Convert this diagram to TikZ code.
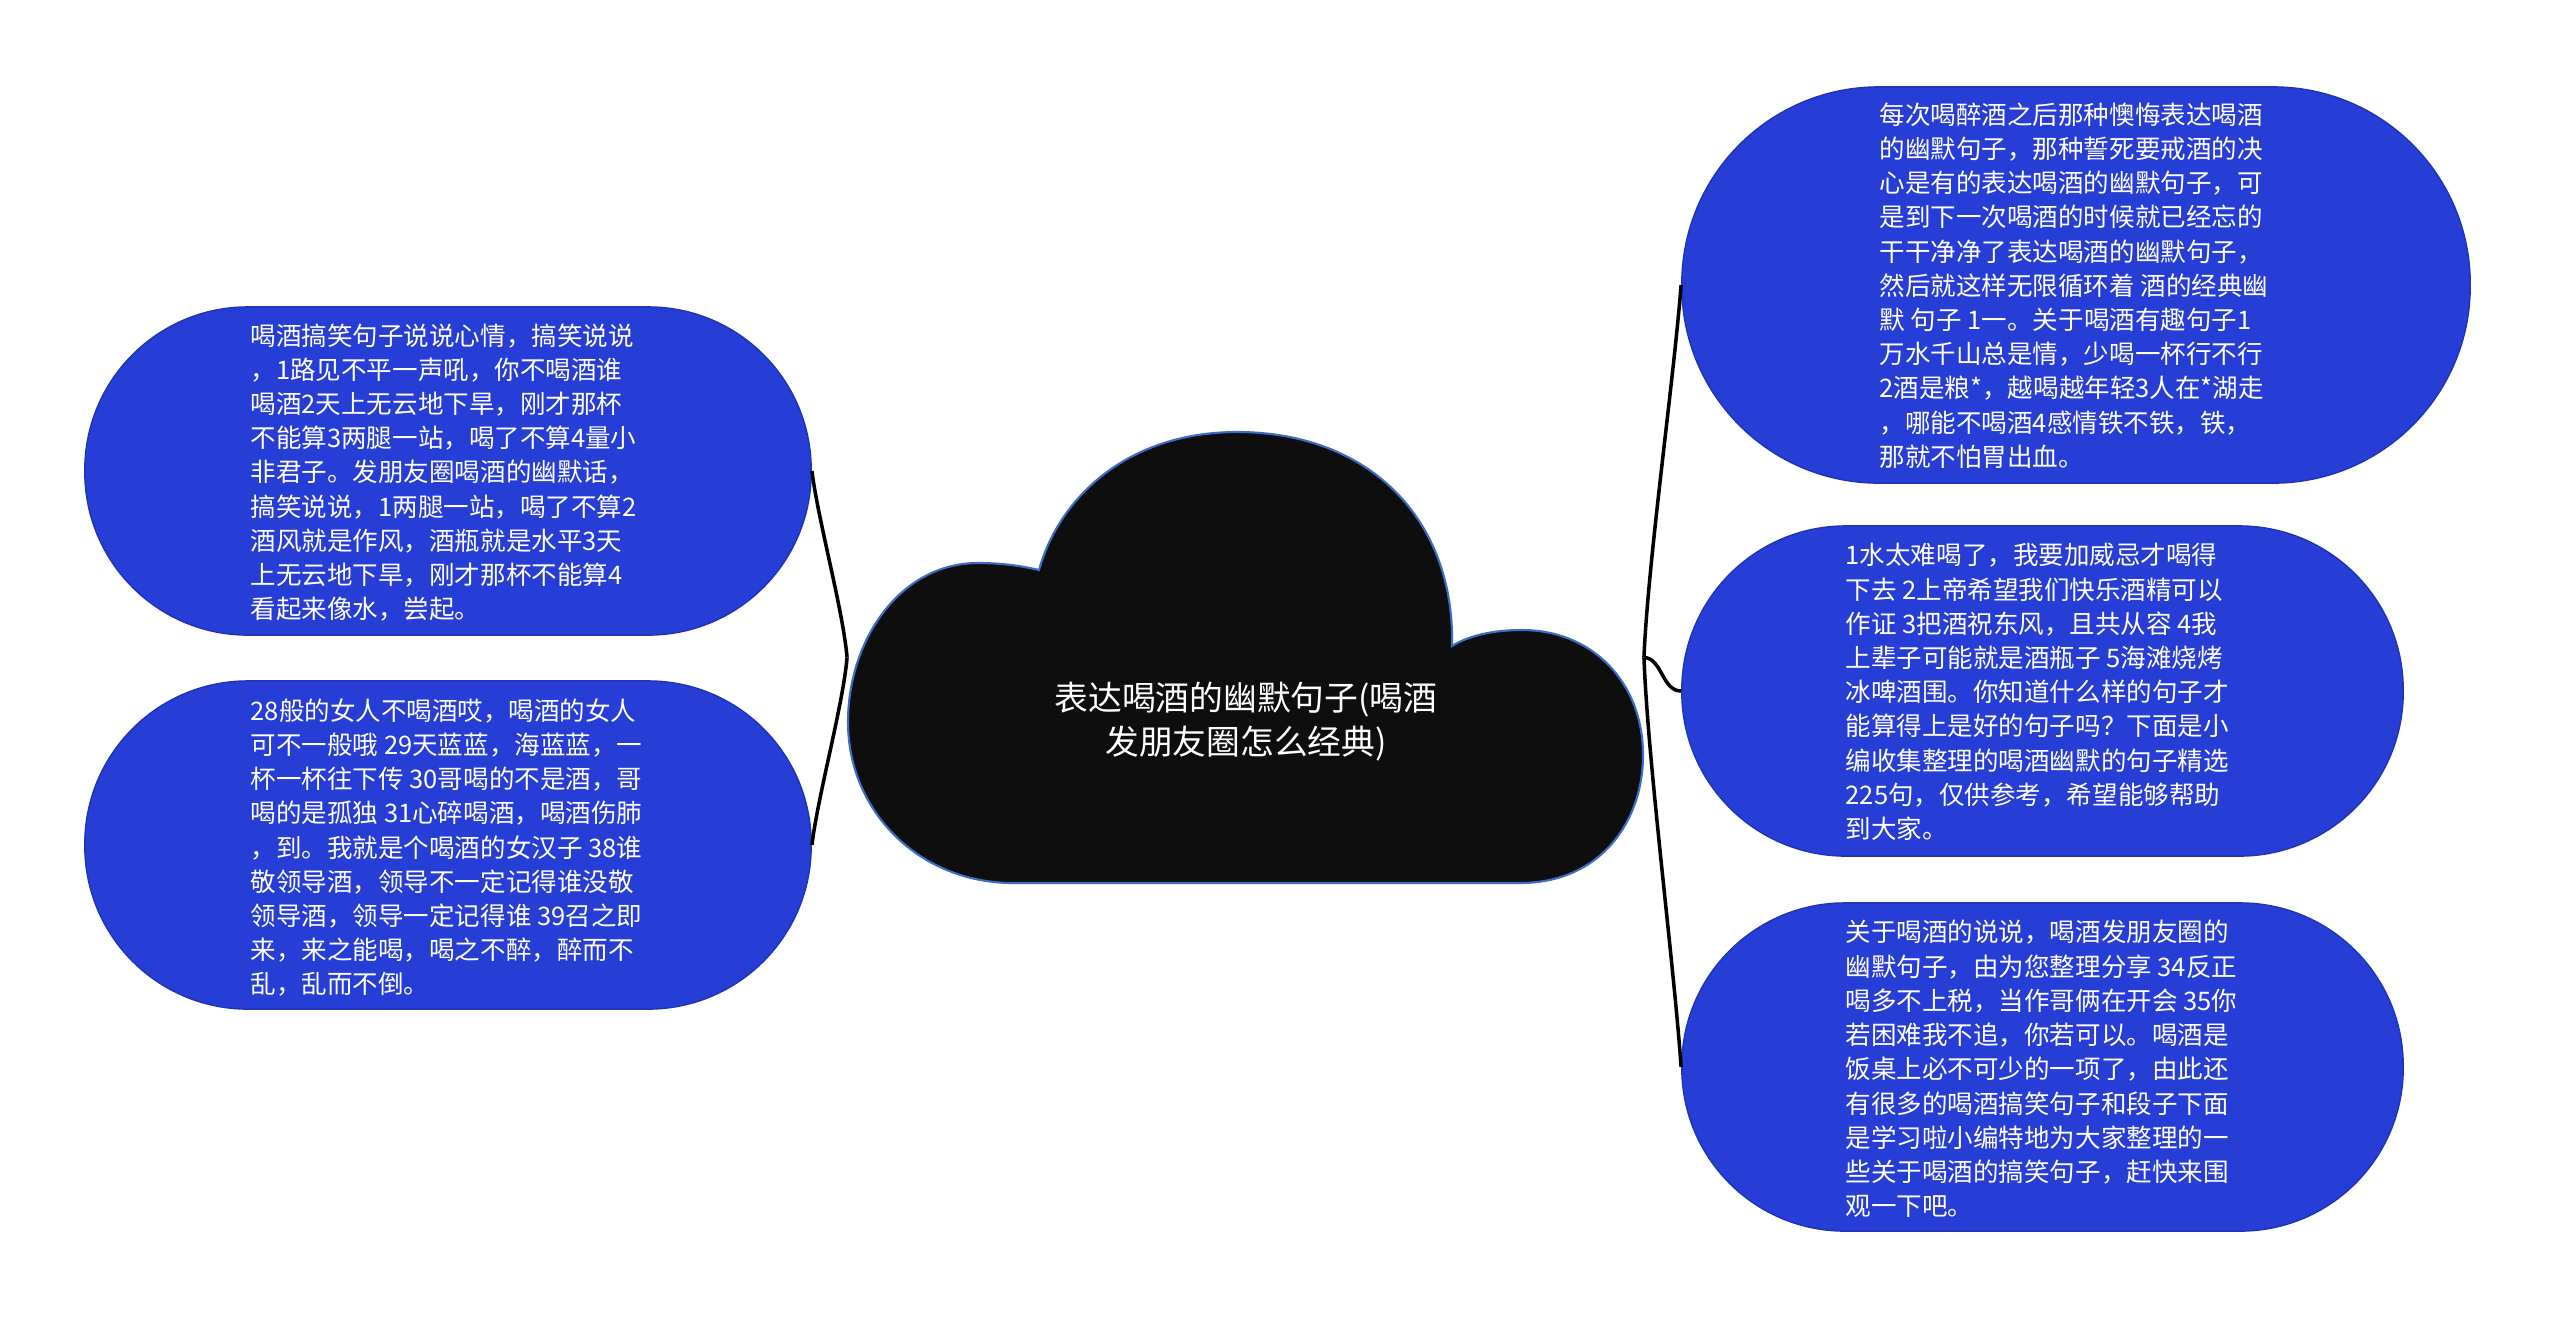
\documentclass[tikz,border=0pt]{standalone}
\usepackage{fontspec}
\newfontfamily\cjk{Noto Sans CJK SC}
\definecolor{bblue}{HTML}{263DD6}
\definecolor{bedge}{HTML}{1F33B8}
\definecolor{cloudfill}{HTML}{0E0E0E}
\definecolor{cloudline}{HTML}{3C6CC4}
\begin{document}
\begin{tikzpicture}[x=0.01cm,y=-0.01cm,
  bubble/.style={draw=bedge,line width=0.4pt,fill=bblue,shape=rectangle,inner sep=0pt},
  btext/.style={anchor=west,inner sep=0pt,align=left,text=white,font=\cjk\fontsize{7.26pt}{9.73pt}\selectfont},
  conn/.style={draw=black,line width=1pt}]
\fill[white] (0,0) rectangle (2560,1317);
\useasboundingbox (0,0) rectangle (2560,1317);

% cloud shape
\path[fill=cloudfill,draw=cloudline,line width=0.6pt]
  (1013,883) -- (1520,883)
  .. controls (1600,883) and (1643,822) .. (1643,755)
  .. controls (1643,682) and (1592,630) .. (1522,630)
  .. controls (1492,630) and (1468,636) .. (1452,646)
  .. controls (1455,520) and (1370,432) .. (1237,432)
  .. controls (1130,432) and (1060,495) .. (1039,570)
  .. controls (1018,565) and (998,563) .. (978,563)
  .. controls (900,563) and (848,640) .. (848,722)
  .. controls (848,812) and (920,883) .. (1013,883) -- cycle;
\node[shape=rectangle,inner sep=0pt,minimum width=7.95cm,minimum height=4.51cm] (cloud) at (1245.5,657.5) {};
\node[align=center,text=white,inner sep=0pt,font=\cjk\fontsize{9.6pt}{12.5pt}\selectfont] (title) at (1246,722) {表达喝酒的幽默句子(喝酒\\发朋友圈怎么经典)};

% bubbles
\node[bubble,minimum width=7.26cm,minimum height=3.28cm,rounded corners=1.63cm] (lt) at (448,471) {};
\node[bubble,minimum width=7.26cm,minimum height=3.28cm,rounded corners=1.63cm] (lb) at (448,845) {};
\node[bubble,minimum width=7.88cm,minimum height=3.96cm,rounded corners=1.97cm] (rt) at (2076,285) {};
\node[bubble,minimum width=7.21cm,minimum height=3.30cm,rounded corners=1.64cm] (rm) at (2042.5,691) {};
\node[bubble,minimum width=7.21cm,minimum height=3.28cm,rounded corners=1.63cm] (rb) at (2042.5,1067) {};

\node[btext] (ltt) at (250,472.5) {喝酒搞笑句子说说心情，搞笑说说\\
，1路见不平一声吼，你不喝酒谁\\
喝酒2天上无云地下旱，刚才那杯\\
不能算3两腿一站，喝了不算4量小\\
非君子。发朋友圈喝酒的幽默话，\\
搞笑说说，1两腿一站，喝了不算2\\
酒风就是作风，酒瓶就是水平3天\\
上无云地下旱，刚才那杯不能算4\\
看起来像水，尝起。};

\node[btext] (lbt) at (250,847.5) {28般的女人不喝酒哎，喝酒的女人\\
可不一般哦 29天蓝蓝，海蓝蓝，一\\
杯一杯往下传 30哥喝的不是酒，哥\\
喝的是孤独 31心碎喝酒，喝酒伤肺\\
，到。我就是个喝酒的女汉子 38谁\\
敬领导酒，领导不一定记得谁没敬\\
领导酒，领导一定记得谁 39召之即\\
来，来之能喝，喝之不醉，醉而不\\
乱，乱而不倒。};

\node[btext] (rtt) at (1879,285.5) {每次喝醉酒之后那种懊悔表达喝酒\\
的幽默句子，那种誓死要戒酒的决\\
心是有的表达喝酒的幽默句子，可\\
是到下一次喝酒的时候就已经忘的\\
干干净净了表达喝酒的幽默句子，\\
然后就这样无限循环着 酒的经典幽\\
默 句子 1一。关于喝酒有趣句子1\\
万水千山总是情，少喝一杯行不行\\
2酒是粮*，越喝越年轻3人在*湖走\\
，哪能不喝酒4感情铁不铁，铁，\\
那就不怕胃出血。};

\node[btext] (rmt) at (1845,692) {1水太难喝了，我要加威忌才喝得\\
下去 2上帝希望我们快乐酒精可以\\
作证 3把酒祝东风，且共从容 4我\\
上辈子可能就是酒瓶子 5海滩烧烤\\
冰啤酒围。你知道什么样的句子才\\
能算得上是好的句子吗？下面是小\\
编收集整理的喝酒幽默的句子精选\\
225句，仅供参考，希望能够帮助\\
到大家。};

\node[btext] (rbt) at (1845,1069) {关于喝酒的说说，喝酒发朋友圈的\\
幽默句子，由为您整理分享 34反正\\
喝多不上税，当作哥俩在开会 35你\\
若困难我不追，你若可以。喝酒是\\
饭桌上必不可少的一项了，由此还\\
有很多的喝酒搞笑句子和段子下面\\
是学习啦小编特地为大家整理的一\\
些关于喝酒的搞笑句子，赶快来围\\
观一下吧。};

% connectors
\draw[conn] (cloud.west) .. controls (843,610) and (818,520) .. (lt.east);
\draw[conn] (cloud.west) .. controls (843,705) and (818,795) .. (lb.east);
\draw[conn] (cloud.east) .. controls (1648,561) and (1674,378) .. (rt.west);
\draw[conn] (cloud.east) .. controls (1662,658) and (1662,691) .. (rm.west);
\draw[conn] (cloud.east) .. controls (1648,764) and (1674,965) .. (rb.west);
\end{tikzpicture}
\end{document}
